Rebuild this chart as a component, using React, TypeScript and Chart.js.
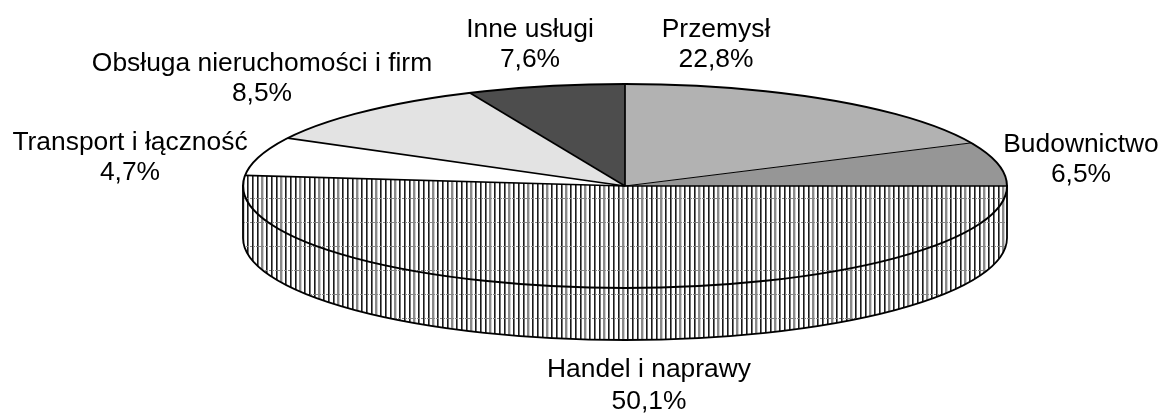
import React, { useEffect, useRef } from "react";
import { Chart, registerables } from "chart.js";

Chart.register(...registerables);

const categories = ["Przemysł", "Budownictwo", "Handel i naprawy", "Transport i łączność", "Obsługa nieruchomości i firm", "Inne usługi"];
const printedShares = ["22,8%", "6,5%", "50,1%", "4,7%", "8,5%", "7,6%"];
// Slice sweeps as drawn in the picture (degrees); the drawing is not strictly proportional to its printed shares.
const drawnSweeps = [65, 25, 186, 22, 38, 24];
const sliceFills = ["#b2b2b2", "#969696", "hatch", "#ffffff", "#e3e3e3", "#4d4d4d"];
const labelCentres = [[716, 30], [1081, 145], [649, 370], [130, 143], [262, 64], [530, 30]];
const labelPitches = [30, 30, 32, 30, 30, 30];

const W = 1159, H = 413;
const CX = 625, CY = 186, RX = 382, RY = 102, DEPTH = 52;

function makeHatch(ctx: CanvasRenderingContext2D) {
  const t = document.createElement("canvas");
  t.width = 19; t.height = 24;
  const c = t.getContext("2d")!;
  c.fillStyle = "#ffffff"; c.fillRect(0, 0, 19, 24);
  c.fillStyle = "#1a1a1a";
  [0, 5, 10].forEach((x) => c.fillRect(x, 0, 1.6, 24));
  c.fillStyle = "#8a8a8a";
  c.fillRect(14, 0, 2.4, 24);
  c.fillStyle = "#888888";
  for (let x = 0; x < 19; x += 3) c.fillRect(x, 6, 2, 1);
  return ctx.createPattern(t, "repeat")!;
}

const pie3d = {
  id: "pie3d",
  beforeDatasetsDraw(chart: any) {
    const ctx: CanvasRenderingContext2D = chart.ctx;
    const arcs = chart.getDatasetMeta(0).data;
    const a = arcs[0];
    const sx = RX / a.outerRadius, sy = RY / a.outerRadius;
    const hatch = chart.$hatch as CanvasPattern;
    // pattern is pinned to page pixels, whatever the squash transform does
    hatch.setTransform(new DOMMatrix().translate(a.x, a.y).scale(1 / sx, 1 / sy).translate(-CX, -CY));
    ctx.save();
    ctx.beginPath();
    ctx.moveTo(CX - RX, CY);
    ctx.lineTo(CX - RX, CY + DEPTH);
    ctx.ellipse(CX, CY + DEPTH, RX, RY, 0, Math.PI, 0, true);
    ctx.lineTo(CX + RX, CY);
    ctx.closePath();
    const saved = ctx.getTransform();
    ctx.fillStyle = hatch;
    ctx.translate(CX, CY); ctx.scale(sx, sy); ctx.translate(-a.x, -a.y);
    ctx.fill();
    ctx.setTransform(saved);
    ctx.strokeStyle = "#000"; ctx.lineWidth = 1.8;
    ctx.stroke();
    ctx.restore();
    ctx.save();
    ctx.translate(CX, CY); ctx.scale(sx, sy); ctx.translate(-a.x, -a.y);
  },
  afterDatasetsDraw(chart: any) {
    const ctx: CanvasRenderingContext2D = chart.ctx;
    ctx.restore();
    const arcs = chart.getDatasetMeta(0).data;
    const ep = (ang: number) => [CX + RX * Math.cos(ang), CY + RY * Math.sin(ang)];
    ctx.save();
    ctx.strokeStyle = "#000";
    ctx.lineJoin = "round";
    arcs.forEach((el: any, i: number) => {
      const [x, y] = ep(el.startAngle);
      ctx.lineWidth = i === 1 ? 1 : 1.7;
      ctx.beginPath(); ctx.moveTo(CX, CY); ctx.lineTo(x, y); ctx.stroke();
    });
    ctx.lineWidth = 2;
    ctx.beginPath();
    ctx.ellipse(CX, CY, RX, RY, 0, 0, Math.PI * 2);
    ctx.stroke();
    ctx.restore();

    ctx.save();
    ctx.fillStyle = "#000";
    ctx.textAlign = "center";
    ctx.textBaseline = "middle";
    ctx.font = "26.4px 'Liberation Sans'";
    categories.forEach((name, i) => {
      const [x, y] = labelCentres[i];
      ctx.fillText(name, x, y);
      ctx.fillText(printedShares[i], x, y + labelPitches[i]);
    });
    ctx.restore();
  },
};

export default function App() {
  const ref = useRef<HTMLCanvasElement>(null);
  useEffect(() => {
    document.body.style.margin = "0";
    document.body.style.background = "#fff";
    const ctx = ref.current!.getContext("2d")!;
    const hatch = makeHatch(ctx);
    const chart = new Chart(ctx, {
      type: "pie",
      data: {
        labels: categories,
        datasets: [{
          data: drawnSweeps,
          backgroundColor: sliceFills.map((f) => (f === "hatch" ? hatch : f)),
          borderWidth: 0,
        }],
      },
      options: {
        animation: false,
        responsive: false,
        layout: { padding: 0 },
        plugins: { legend: { display: false }, tooltip: { enabled: false }, title: { display: false } },
      },
      plugins: [pie3d, { id: "hatchRef", beforeInit(c: any) { c.$hatch = hatch; } }],
    });
    (chart as any).$hatch = hatch;
    chart.draw();
    return () => chart.destroy();
  }, []);
  return <canvas ref={ref} width={W} height={H} style={{ display: "block", width: W, height: H }} />;
}
